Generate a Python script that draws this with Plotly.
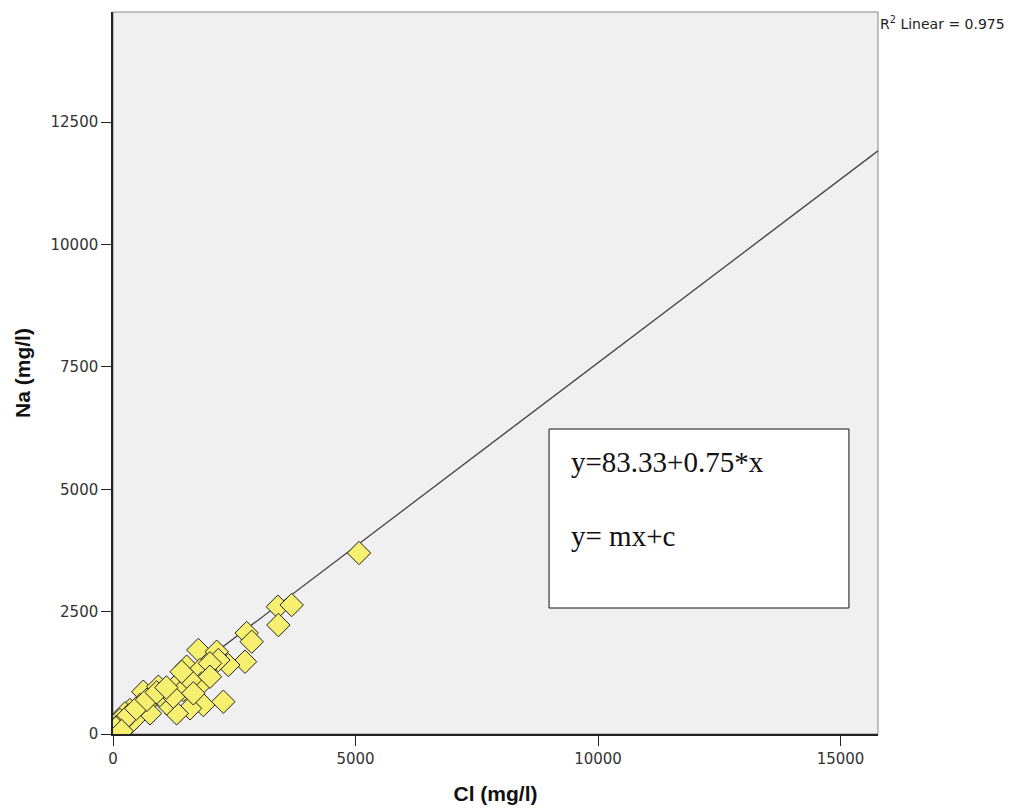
import plotly.graph_objects as go

# Data (Cl vs Na, mg/l)
cl = [5072, 3400, 3684, 3410, 2756, 2860, 2722, 1759, 2138, 2378, 2172, 1519, 1794,
      1999, 1828, 2275, 1862, 1588, 1313, 1278, 1450, 832, 625, 935, 1107, 763, 557,
      350, 247, 144, 76, 282, 419, 1588, 1416, 1999, 969, 1244, 1656, 200, 320, 480,
      700, 900, 1100, 60, 180]
na = [3697, 2600, 2635, 2226, 2063, 1885, 1477, 1716, 1681, 1409, 1511, 1375, 1307,
      1444, 1035, 660, 592, 524, 421, 966, 898, 762, 864, 966, 626, 421, 592,
      490, 421, 286, 150, 150, 286, 1103, 1272, 1170, 797, 762, 831, 250, 380, 520,
      700, 850, 950, 120, 60]

intercept = 83.33
slope = 0.75
x_max = 15773
y_max = 14750
x_ticks = [0, 5000, 10000, 15000]
y_ticks = [0, 2500, 5000, 7500, 10000, 12500]

line_x = [0, x_max]
line_y = [intercept + slope * v for v in line_x]

tick_font = dict(family="DejaVu Sans, Arial, sans-serif", size=15, color="#333333")
title_font = dict(family="Liberation Sans, Arial, sans-serif", size=21, color="#111111")
serif = dict(family="Liberation Serif, Times New Roman, serif", size=29, color="#111111")

fig = go.Figure()
fig.add_trace(go.Scatter(x=line_x, y=line_y, mode="lines",
                         line=dict(color="#444444", width=1.3),
                         hoverinfo="skip", showlegend=False))
fig.add_trace(go.Scatter(x=cl, y=na, mode="markers",
                         marker=dict(symbol="diamond", size=18, color="#f7ef6f",
                                     line=dict(color="#222222", width=1)),
                         showlegend=False))

fig.update_layout(
    width=1021, height=812,
    margin=dict(l=113, r=143, t=12, b=78),
    paper_bgcolor="white",
    plot_bgcolor="#f0f0f0",
    font=dict(family="DejaVu Sans, Arial, sans-serif", color="#333333", size=14),
    xaxis=dict(range=[0, x_max], tickvals=x_ticks, ticktext=[str(v) for v in x_ticks],
               showgrid=False, zeroline=False, showline=True, linecolor="#222222",
               linewidth=1.5, ticks="outside", ticklen=10, tickcolor="#222222",
               tickfont=tick_font, automargin=False,
               title=dict(text="<b>Cl (mg/l)</b>", font=title_font, standoff=20)),
    yaxis=dict(range=[0, y_max], tickvals=y_ticks, ticktext=[str(v) for v in y_ticks],
               showgrid=False, zeroline=False, showline=True, linecolor="#222222",
               linewidth=1.5, ticks="outside", ticklen=10, tickcolor="#222222",
               tickfont=tick_font, automargin=False,
               title=dict(text="<b>Na (mg/l)</b>", font=title_font, standoff=14)),
    shapes=[
        dict(type="rect", xref="paper", yref="paper", x0=0, x1=1, y0=0, y1=1,
             line=dict(color="#888888", width=1), layer="below"),
        dict(type="rect", xref="paper", yref="paper", x0=0.570, x1=0.962,
             y0=0.1745, y1=0.4224, fillcolor="white",
             line=dict(color="#111111", width=1)),
    ],
    annotations=[
        dict(text="R<sup>2</sup> Linear = 0.975", xref="paper", yref="paper",
             x=1.0, y=0.985, xanchor="left", yanchor="middle", showarrow=False,
             font=dict(family="DejaVu Sans, Arial, sans-serif", size=14, color="#222222")),
        dict(text="y=83.33+0.75*x", xref="paper", yref="paper", x=0.596, y=0.377,
             xanchor="left", yanchor="middle", showarrow=False, font=serif),
        dict(text="y= mx+c", xref="paper", yref="paper", x=0.596, y=0.274,
             xanchor="left", yanchor="middle", showarrow=False, font=serif),
    ],
)

fig.write_html("out.html")
